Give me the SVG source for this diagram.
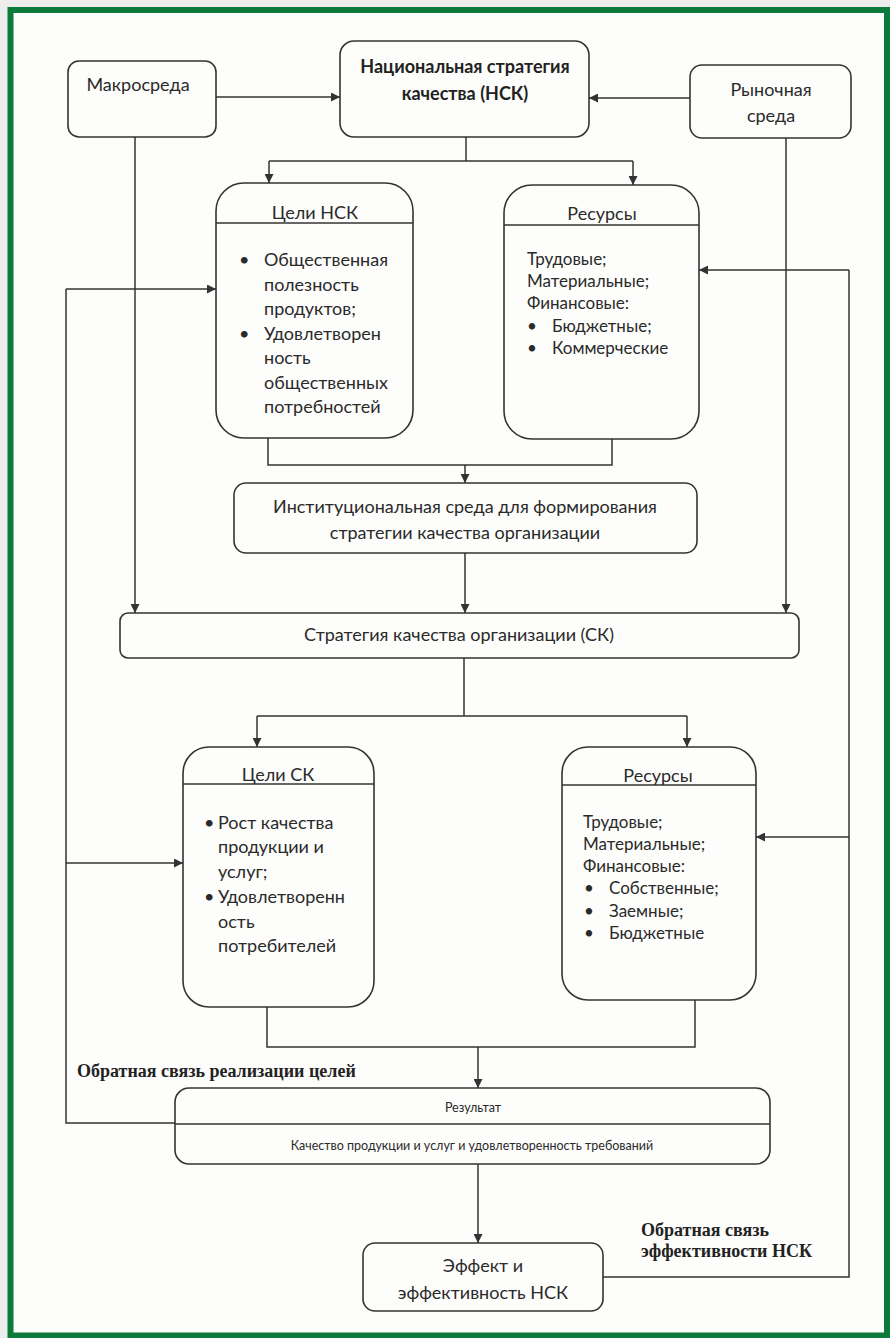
<svg xmlns="http://www.w3.org/2000/svg" width="890" height="1338" viewBox="0 0 890 1338">
<style>
.box{fill:none;stroke:#333;stroke-width:1.6}
.ln{fill:none;stroke:#333;stroke-width:1.5}
.t{font-family:Lato,"Noto Sans",sans-serif;font-size:18px;fill:#2a2a2a}
.tm{font-family:Lato,"Noto Sans",sans-serif;font-size:18px;fill:#2a2a2a;text-anchor:middle}
.tb{font-family:Lato,"Noto Sans",sans-serif;font-size:18px;font-weight:bold;fill:#222;text-anchor:middle}
.tr{font-family:Lato,"Noto Sans",sans-serif;font-size:17px;fill:#2a2a2a}
.ts{font-family:Lato,"Noto Sans",sans-serif;font-size:12.5px;fill:#2a2a2a;text-anchor:middle}
.fb{font-family:"Liberation Serif","Times New Roman",serif;font-size:18px;font-weight:bold;fill:#222}
</style>
<defs>
<marker id="ah" viewBox="0 0 10 10" refX="10" refY="5" markerWidth="9" markerHeight="9" markerUnits="userSpaceOnUse" orient="auto">
<path d="M0,0 L10,5 L0,10 z" fill="#333"/>
</marker>
</defs>
<rect x="0" y="0" width="890" height="1338" fill="#ededed"/>
<rect x="10.5" y="10" width="876.5" height="1325.5" fill="#fdfdfb" stroke="#0b7a3b" stroke-width="6"/>

<g id="connectors">
<line class="ln" x1="216" y1="97" x2="340" y2="97" marker-end="url(#ah)"/>
<line class="ln" x1="690" y1="98" x2="589" y2="98" marker-end="url(#ah)"/>
<polyline class="ln" points="466,137 466,161"/>
<polyline class="ln" points="269,161 633,161"/>
<line class="ln" x1="269" y1="161" x2="269" y2="183" marker-end="url(#ah)"/>
<line class="ln" x1="633" y1="161" x2="633" y2="185" marker-end="url(#ah)"/>
<line class="ln" x1="135" y1="137" x2="135" y2="613" marker-end="url(#ah)"/>
<line class="ln" x1="786" y1="138" x2="786" y2="613" marker-end="url(#ah)"/>
<polyline class="ln" points="268,438 268,465 612,465 612,439"/>
<line class="ln" x1="465" y1="465" x2="465" y2="483" marker-end="url(#ah)"/>
<line class="ln" x1="465" y1="553" x2="465" y2="613" marker-end="url(#ah)"/>
<polyline class="ln" points="464,658 464,716"/>
<polyline class="ln" points="257,716 687,716"/>
<line class="ln" x1="257" y1="716" x2="257" y2="747" marker-end="url(#ah)"/>
<line class="ln" x1="687" y1="716" x2="687" y2="747" marker-end="url(#ah)"/>
<polyline class="ln" points="267,1007 267,1047 695,1047 695,1000"/>
<line class="ln" x1="478" y1="1047" x2="478" y2="1088" marker-end="url(#ah)"/>
<line class="ln" x1="478" y1="1164" x2="478" y2="1243" marker-end="url(#ah)"/>
<polyline class="ln" points="175,1123 66,1123 66,289"/>
<line class="ln" x1="66" y1="289" x2="216" y2="289" marker-end="url(#ah)"/>
<line class="ln" x1="66" y1="863" x2="183" y2="863" marker-end="url(#ah)"/>
<polyline class="ln" points="603,1277 849,1277 849,270"/>
<line class="ln" x1="849" y1="270" x2="699" y2="270" marker-end="url(#ah)"/>
<line class="ln" x1="849" y1="837" x2="756" y2="837" marker-end="url(#ah)"/>
<text class="fb" x="77" y="1077">Обратная связь реализации целей</text>
<text class="fb" x="641" y="1236">Обратная связь</text>
<text class="fb" x="641" y="1257">эффективности НСК</text>
</g>

<g id="makrosreda">
<rect class="box" x="68" y="61" width="148" height="76" rx="11"/>
<text class="tm" x="138" y="91">Макросреда</text>
</g>

<g id="nsk">
<rect class="box" x="340" y="41" width="249" height="96" rx="14"/>
<text class="tb" x="465" y="73">Национальная стратегия</text>
<text class="tb" x="465" y="100">качества (НСК)</text>
</g>

<g id="rynochnaya">
<rect class="box" x="690" y="65" width="161" height="73" rx="12"/>
<text class="tm" x="771" y="96">Рыночная</text>
<text class="tm" x="771" y="122">среда</text>
</g>

<g id="celi-nsk">
<rect class="box" x="216" y="183" width="197" height="255" rx="28"/>
<line class="box" x1="216" y1="223" x2="413" y2="223"/>
<text class="tm" x="315" y="219">Цели НСК</text>
<text class="t" x="239" y="266">•</text>
<text class="t" x="264" y="266">Общественная</text>
<text class="t" x="264" y="291">полезность</text>
<text class="t" x="264" y="315">продуктов;</text>
<text class="t" x="239" y="340">•</text>
<text class="t" x="264" y="340">Удовлетворен</text>
<text class="t" x="264" y="364">ность</text>
<text class="t" x="264" y="389">общественных</text>
<text class="t" x="264" y="413">потребностей</text>
</g>

<g id="resursy-nsk">
<rect class="box" x="504" y="185" width="195" height="254" rx="28"/>
<line class="box" x1="504" y1="225" x2="699" y2="225"/>
<text class="tm" x="602" y="220">Ресурсы</text>
<text class="tr" x="527" y="265">Трудовые;</text>
<text class="tr" x="527" y="287">Материальные;</text>
<text class="tr" x="527" y="309">Финансовые:</text>
<text class="tr" x="527" y="332">•</text>
<text class="tr" x="552" y="332">Бюджетные;</text>
<text class="tr" x="527" y="354">•</text>
<text class="tr" x="552" y="354">Коммерческие</text>
</g>

<g id="institut">
<rect class="box" x="234" y="483" width="463" height="70" rx="12"/>
<text class="tm" x="465" y="513">Институциональная среда для формирования</text>
<text class="tm" x="465" y="539">стратегии качества организации</text>
</g>

<g id="sk">
<rect class="box" x="120" y="613" width="679" height="45" rx="8"/>
<text class="tm" x="459" y="641">Стратегия качества организации (СК)</text>
</g>

<g id="celi-sk">
<rect class="box" x="183" y="747" width="191" height="260" rx="26"/>
<line class="box" x1="183" y1="784" x2="374" y2="784"/>
<text class="tm" x="278" y="781">Цели СК</text>
<text class="t" x="204" y="829">•</text>
<text class="t" x="218" y="829">Рост качества</text>
<text class="t" x="218" y="853">продукции и</text>
<text class="t" x="218" y="878">услуг;</text>
<text class="t" x="204" y="903">•</text>
<text class="t" x="218" y="903">Удовлетворенн</text>
<text class="t" x="218" y="928">ость</text>
<text class="t" x="218" y="952">потребителей</text>
</g>

<g id="resursy-sk">
<rect class="box" x="562" y="747" width="194" height="253" rx="26"/>
<line class="box" x1="562" y1="785" x2="756" y2="785"/>
<text class="tm" x="658" y="782">Ресурсы</text>
<text class="tr" x="583" y="828">Трудовые;</text>
<text class="tr" x="583" y="850">Материальные;</text>
<text class="tr" x="583" y="872">Финансовые:</text>
<text class="tr" x="584" y="894">•</text>
<text class="tr" x="609" y="894">Собственные;</text>
<text class="tr" x="584" y="917">•</text>
<text class="tr" x="609" y="917">Заемные;</text>
<text class="tr" x="584" y="939">•</text>
<text class="tr" x="609" y="939">Бюджетные</text>
</g>

<g id="rezultat">
<rect class="box" x="175" y="1088" width="595" height="76" rx="14"/>
<line class="box" x1="175" y1="1124" x2="770" y2="1124"/>
<text class="ts" x="473" y="1112">Результат</text>
<text class="ts" x="472" y="1150">Качество продукции и услуг и удовлетворенность требований</text>
</g>

<g id="effekt">
<rect class="box" x="363" y="1243" width="240" height="68" rx="12"/>
<text class="tm" x="483" y="1272">Эффект и</text>
<text class="tm" x="483" y="1299">эффективность НСК</text>
</g>
</svg>
